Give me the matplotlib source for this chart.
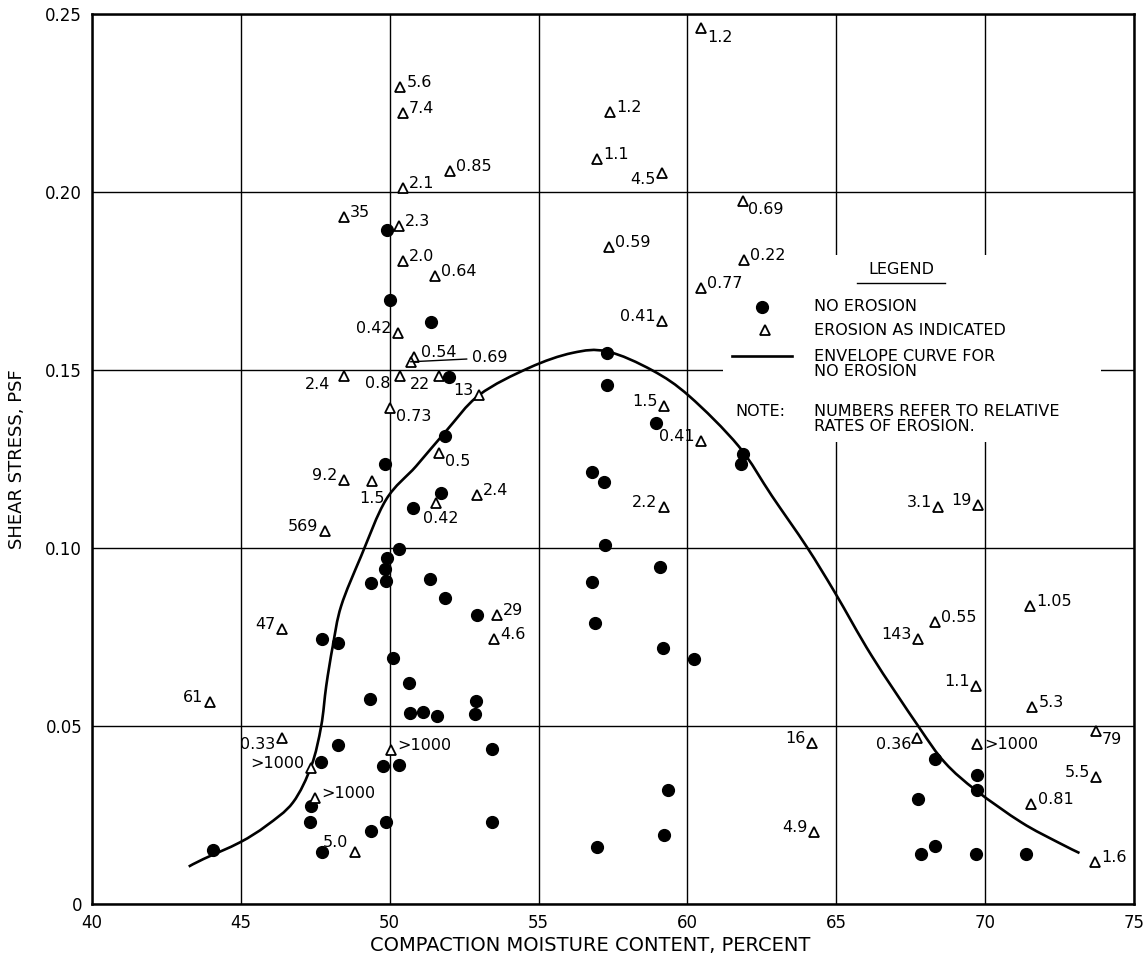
import matplotlib
matplotlib.use('Agg')
import numpy as np
import matplotlib.pyplot as plt
from matplotlib.patches import Rectangle, PathPatch
from matplotlib.path import Path

plt.rcParams['font.family'] = ['DejaVu Sans']

# no erosion points (moisture %, shear stress psf)
dot_x = [44.07, 47.72, 47.33, 47.37, 47.70, 48.26, 47.74, 48.26, 49.35, 49.36,
         49.86, 49.83, 49.90, 50.30, 50.10, 50.66, 50.69, 51.11, 51.59, 52.90,
         52.88, 51.37, 51.87, 52.92, 49.77, 50.31, 49.86, 49.38, 53.42, 53.42,
         49.85, 50.80, 51.73, 51.87, 52.00, 51.38, 50.02, 49.90, 57.31, 57.29,
         58.93, 56.81, 57.20, 57.23, 56.79, 56.89, 59.08, 59.19, 60.21, 59.34,
         59.23, 56.97, 61.86, 61.80, 68.33, 69.72, 69.72, 67.73, 68.33, 67.84,
         69.71, 71.38]
dot_y = [0.0152, 0.0145, 0.0231, 0.0276, 0.0399, 0.0447, 0.0744, 0.0732, 0.0577, 0.0902,
         0.0907, 0.0942, 0.0973, 0.0997, 0.0692, 0.0622, 0.0536, 0.0538, 0.0528, 0.0570,
         0.0533, 0.0914, 0.0859, 0.0811, 0.0388, 0.0390, 0.0231, 0.0206, 0.0435, 0.0231,
         0.1235, 0.1113, 0.1155, 0.1314, 0.1480, 0.1636, 0.1696, 0.1894, 0.1548, 0.1459,
         0.1350, 0.1213, 0.1185, 0.1007, 0.0904, 0.0790, 0.0946, 0.0720, 0.0687, 0.0320,
         0.0194, 0.0159, 0.1265, 0.1235, 0.0407, 0.0362, 0.0320, 0.0295, 0.0163, 0.0140,
         0.0140, 0.0140]

# erosion points with relative erosion rates
tri_x = [50.35, 50.44, 50.44, 52.03, 48.45, 50.31, 50.44, 51.52, 50.27, 50.83,
         50.70, 50.33, 48.45, 51.67, 53.01, 50.02, 51.67, 48.45, 49.41, 51.56,
         52.92, 47.82, 46.38, 43.96, 46.38, 47.35, 47.48, 48.82, 53.59, 53.51,
         50.05, 60.47, 57.39, 56.97, 59.13, 61.86, 57.37, 61.89, 60.44, 59.15,
         59.21, 60.44, 59.21, 68.43, 69.77, 71.50, 68.31, 67.75, 69.69, 71.58,
         73.73, 64.18, 67.72, 69.74, 73.73, 71.55, 64.24, 73.68]
tri_y = [0.2296, 0.2221, 0.2011, 0.2058, 0.1931, 0.1905, 0.1805, 0.1765, 0.1604, 0.1536,
         0.1523, 0.1484, 0.1484, 0.1484, 0.1431, 0.1393, 0.1267, 0.1192, 0.1188, 0.1127,
         0.1150, 0.1047, 0.0773, 0.0568, 0.0466, 0.0383, 0.0299, 0.0145, 0.0811, 0.0745,
         0.0433, 0.2460, 0.2226, 0.2093, 0.2053, 0.1976, 0.1845, 0.1808, 0.1730, 0.1639,
         0.1398, 0.1300, 0.1116, 0.1116, 0.1122, 0.0837, 0.0792, 0.0745, 0.0611, 0.0554,
         0.0486, 0.0452, 0.0465, 0.0449, 0.0358, 0.0281, 0.0201, 0.0119]
tri_labels = ['5.6', '7.4', '2.1', '0.85', '35', '2.3', '2.0', '0.64', '0.42', '0.54',
              '0.69', '0.8', '2.4', '22', '13', '0.73', '0.5', '9.2', '1.5', '0.42',
              '2.4', '569', '47', '61', '0.33', '>1000', '>1000', '5.0', '29', '4.6',
              '>1000', '1.2', '1.2', '1.1', '4.5', '0.69', '0.59', '0.22', '0.77', '0.41',
              '1.5', '0.41', '2.2', '3.1', '19', '1.05', '0.55', '143', '1.1', '5.3',
              '79', '16', '0.36', '>1000', '5.5', '0.81', '4.9', '1.6']
tri_place = ['sup', 'sup', 'sup', 'sup', 'sup', 'sup', 'sup', 'sup', 'left', 'sup',
             'lead', 'bl1', 'bl2', 'bl3', 'left', 'sub', 'sub', 'left', 'below', 'below2',
             'sup', 'left', 'left', 'left', 'lowleft', 'left', 'sup', 'left5', 'sup', 'sup',
             'sup', 'sub', 'sup', 'sup', 'lowleft', 'sub', 'sup', 'sup', 'sup', 'left',
             'left', 'left', 'left', 'left', 'left', 'sup', 'sup', 'left', 'left', 'sup',
             'sub', 'left', 'lowleft', 'right', 'left', 'sup', 'left', 'sup']

# envelope curve for no erosion
curve_x = [43.25, 43.74, 44.97, 45.86, 46.75, 47.37, 47.70, 47.87, 48.09, 48.37,
           49.04, 49.88, 50.89, 51.89, 53.01, 54.68, 56.14, 57.31,
           58.82, 60.07, 61.72, 62.84, 64.01, 64.96, 66.19, 67.75, 68.65, 69.71,
           71.22, 72.45, 73.17]
curve_y = [0.0105, 0.0126, 0.0173, 0.0220, 0.0285, 0.0388, 0.0500, 0.0613, 0.0725, 0.0837,
           0.0977, 0.1136, 0.1230, 0.1328, 0.1430, 0.1506, 0.1548, 0.1552,
           0.1499, 0.1426, 0.1286, 0.1146, 0.1003, 0.0874, 0.0697, 0.0500, 0.0397, 0.0318,
           0.0229, 0.0173, 0.0143]

x_ticks = [40, 45, 50, 55, 60, 65, 70, 75]
y_ticks = [0, 0.05, 0.10, 0.15, 0.20, 0.25]
y_tick_labels = ['0', '0.05', '0.10', '0.15', '0.20', '0.25']

place_fmt = {
    'sup': ((4.5, 0), 'left', 'baseline'),
    'sub': ((4, -1), 'left', 'top'),
    'left': ((-4.5, 0), 'right', 'baseline'),
    'left5': ((-4.5, 3.5), 'right', 'baseline'),
    'lowleft': ((-4.5, 1), 'right', 'top'),
    'right': ((5, 0), 'left', 'center'),
    'bl1': ((-16, -5.5), 'center', 'center'),
    'bl2': ((-19, -6), 'center', 'center'),
    'bl3': ((-14, -6.5), 'center', 'center'),
    'below': ((0, -12.5), 'center', 'center'),
    'below2': ((3, -11), 'center', 'center'),
}


def smooth_path(xs, ys):
    # catmull-rom through the read points, drawn as cubic bezier segments
    p = np.column_stack([xs, ys])
    verts = [p[0]]
    codes = [Path.MOVETO]
    n = len(p)
    for i in range(n - 1):
        p0 = p[max(i - 1, 0)]
        p1 = p[i]
        p2 = p[i + 1]
        p3 = p[min(i + 2, n - 1)]
        verts += [p1 + (p2 - p0) / 6.0, p2 - (p3 - p1) / 6.0, p2]
        codes += [Path.CURVE4] * 3
    return Path(verts, codes)


fig = plt.figure(figsize=(11.48, 9.59), dpi=100)
ax = fig.add_axes([0.0801, 0.0574, 0.9077, 0.928])
ax.set_xlim(40, 75)
ax.set_ylim(0, 0.25)

ax.set_xticks(x_ticks)
ax.set_yticks(y_ticks)
ax.set_yticklabels(y_tick_labels)
ax.tick_params(length=0, pad=7, labelsize=12)
ax.grid(True, color='black', lw=1.0)
ax.set_axisbelow(True)
for s in ax.spines.values():
    s.set_linewidth(1.8)

# blank area behind legend
ax.add_patch(Rectangle((61.2, 0.1299), 12.7, 0.0525, facecolor='white',
                       edgecolor='none', zorder=1))

ax.add_patch(PathPatch(smooth_path(curve_x, curve_y), facecolor='none',
                       edgecolor='black', lw=1.9, zorder=3))
ax.plot(dot_x, dot_y, 'o', color='black', ms=8.5, zorder=4)
ax.plot(tri_x, tri_y, '^', mfc='white', mec='black', mew=1.3, ms=7.5, zorder=5)

lab_fs = 11.5
for x, y, lab, p in zip(tri_x, tri_y, tri_labels, tri_place):
    if p == 'lead':
        ax.annotate(lab, xy=(x, y), xytext=(52.78, 0.1534), textcoords='data',
                    ha='left', va='center', fontsize=lab_fs, zorder=6,
                    arrowprops=dict(arrowstyle='-', lw=1.0, color='black',
                                    shrinkA=2, shrinkB=0))
        continue
    off, ha, va = place_fmt[p]
    ax.annotate(lab, xy=(x, y), xytext=off, textcoords='offset points',
                ha=ha, va=va, fontsize=lab_fs, zorder=6)

# legend block
fs = 11.5
ax.text(67.17, 0.1782, 'LEGEND', ha='center', va='center', fontsize=fs, zorder=6)
ax.plot([65.68, 68.66], [0.1745, 0.1745], color='black', lw=1.0, zorder=6)
ax.plot([62.50], [0.1677], 'o', color='black', ms=8.5, zorder=6)
ax.text(64.24, 0.1677, 'NO EROSION', va='center', fontsize=fs, zorder=6)
ax.plot([62.62], [0.1611], '^', mfc='white', mec='black', mew=1.3, ms=7.5, zorder=6)
ax.text(64.24, 0.1611, 'EROSION AS INDICATED', va='center', fontsize=fs, zorder=6)
ax.plot([61.49, 63.50], [0.1540, 0.1540], color='black', lw=1.9, zorder=6)
ax.text(64.24, 0.1518, 'ENVELOPE CURVE FOR\nNO EROSION', va='center',
        fontsize=fs, linespacing=1.0, zorder=6)
ax.text(61.61, 0.1384, 'NOTE:', va='center', fontsize=fs, zorder=6)
ax.text(64.24, 0.1361, 'NUMBERS REFER TO RELATIVE\nRATES OF EROSION.', va='center',
        fontsize=fs, linespacing=1.0, zorder=6)

ax.set_xlabel('COMPACTION MOISTURE CONTENT, PERCENT', fontsize=14)
ax.xaxis.set_label_coords(0.478, -0.036)
ax.set_ylabel('SHEAR STRESS, PSF', fontsize=13)
ax.yaxis.set_label_coords(-0.063, 0.5)

fig.savefig('out.png', dpi=100)
